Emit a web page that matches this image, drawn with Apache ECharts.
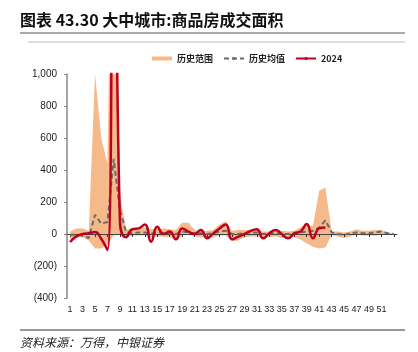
<!DOCTYPE html>
<html><head><meta charset="utf-8">
<script src="https://cdn.jsdelivr.net/npm/echarts@6/dist/echarts.min.js"></script>
<style>html,body{margin:0;padding:0;background:#fff}#c{width:418px;height:352px}</style>
</head><body><div id="c"></div>
<script>
const weeks = ['1','2','3','4','5','6','7','8','9','10','11','12','13','14','15','16','17','18','19','20','21','22','23','24','25','26','27','28','29','30','31','32','33','34','35','36','37','38','39','40','41','42','43','44','45','46','47','48','49','50','51','52','53'];

const histMax = [15,35,35,20,1000,600,440,3000,250,25,35,35,40,30,35,35,30,25,70,70,25,20,20,25,60,80,20,25,25,25,30,15,15,20,20,15,20,40,60,50,270,290,15,15,10,15,30,20,20,25,25,10,5];

const histMin = [-30,-25,-20,-40,-90,-90,-65,-10,-5,-20,-10,-10,-10,-20,-15,-15,-20,-40,-10,-5,-15,-20,-25,-20,-10,-10,-45,-40,-20,-15,-15,-25,-20,-15,-25,-25,-20,-35,-60,-80,-90,-85,-5,-15,-25,-15,-5,-10,-10,-10,-5,-5,-5];

const histMean = [-5,-5,-10,-25,120,65,75,470,150,10,5,10,10,0,10,5,5,0,15,10,5,5,0,5,15,20,0,0,5,10,10,0,5,5,0,0,5,10,15,20,40,85,10,0,-5,5,10,5,5,10,15,5,0];

const y2024 = [-50,-15,0,5,12,-30,-100,3000,80,-20,30,35,60,-48,46,0,15,-33,35,15,0,25,-27,4,35,60,-33,-17,0,20,29,-27,5,25,0,-27,4,15,62,-27,35,40];

const yTicks = {min: -400, max: 1000, interval: 200};

const bandDiff = histMax.map((v, i) => v - histMin[i]);

const chart = echarts.init(document.getElementById('c'), null, {renderer: 'canvas'});

function fmt(v) {
  const a = Math.abs(v);
  const s = a >= 1000 ? Math.floor(a / 1000) + ',' + String(a % 1000).padStart(3, '0') : String(a);
  return v < 0 ? '(' + s + ')' : s;
}

chart.setOption({
  animation: false,
  textStyle: {fontFamily: 'Liberation Sans, Arial, sans-serif'},
  graphic: [
    {type: 'text', left: 20, top: 12, style: {text: '图表 43.30 大中城市:商品房成交面积', font: 'bold 16px "Noto Sans CJK SC"', fill: '#111'}},
    {type: 'line', shape: {x1: 20, y1: 33, x2: 405, y2: 33}, style: {stroke: '#555', lineWidth: 1.2}},
    {type: 'line', shape: {x1: 28, y1: 42, x2: 405, y2: 42}, style: {stroke: '#bbb', lineWidth: 1}},
    {type: 'line', shape: {x1: 20, y1: 330, x2: 405, y2: 330}, style: {stroke: '#333', lineWidth: 1}},
    {type: 'text', left: 20, top: 336, style: {text: '资料来源：万得，中银证券', font: 'italic 12px "Noto Sans CJK SC"', fill: '#222'}}
  ],
  legend: {
    left: 147, top: 49, itemWidth: 20, itemHeight: 4, itemGap: 10,
    textStyle: {fontSize: 9, fontWeight: 'bold', color: '#222', fontFamily: 'Noto Sans CJK SC'},
    data: [
      {name: '历史范围', icon: 'rect', itemStyle: {color: '#F6B98A'}},
      {name: '历史均值'},
      {name: '2024'}
    ]
  },
  grid: {left: 67, right: 21, top: 74, bottom: 54, containLabel: false},
  xAxis: [
    {type: 'category', data: weeks, boundaryGap: true,
     axisLine: {show: false, onZero: false}, axisTick: {show: false},
     axisLabel: {interval: (i) => i % 2 === 0 && i < 52, fontSize: 9, color: '#222', margin: 7},
     splitLine: {show: false}},
    {type: 'category', data: weeks, boundaryGap: true, position: 'bottom', z: 3,
     axisLine: {show: true, onZero: true, lineStyle: {color: '#444', width: 1}},
     axisTick: {show: true, interval: 1, length: 3, inside: false, alignWithLabel: true, lineStyle: {color: '#333'}},
     axisLabel: {show: false}, splitLine: {show: false}}
  ],
  yAxis: {
    type: 'value', min: yTicks.min, max: yTicks.max, interval: yTicks.interval,
    axisLine: {show: true, lineStyle: {color: '#888', width: 1.5}},
    axisTick: {show: true, length: 3, lineStyle: {color: '#888'}},
    axisLabel: {formatter: fmt, fontSize: 10, color: '#222', margin: 10},
    splitLine: {show: false}
  },
  series: [
    {name: '历史下限', type: 'line', data: histMin, stack: 'band', stackStrategy: 'all',
     symbol: 'none', lineStyle: {width: 0, opacity: 0}, z: 1, silent: true},
    {name: '历史范围', type: 'line', data: bandDiff, stack: 'band', stackStrategy: 'all',
     symbol: 'none', lineStyle: {width: 0, opacity: 0}, areaStyle: {color: '#F6B98A', opacity: 1},
     itemStyle: {color: '#F6B98A'}, z: 2},
    {name: '历史均值', type: 'line', data: histMean, symbol: 'none',
     lineStyle: {color: '#6a6a6a', width: 2, type: [5, 3]}, itemStyle: {color: '#6a6a6a'}, z: 4},
    {name: '2024', type: 'line', data: y2024, symbol: 'none', smooth: 0.5,
     lineStyle: {color: '#BE0020', width: 2.5}, itemStyle: {color: '#BE0020'}, z: 5}
  ]
});
</script>
</body></html>
